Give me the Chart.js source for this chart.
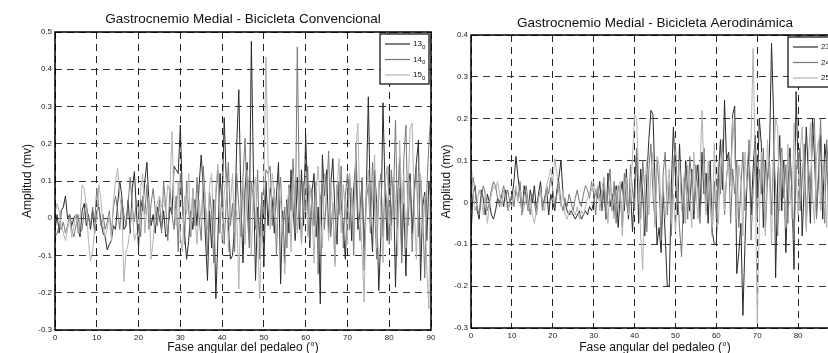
<!DOCTYPE html>
<html>
<head>
<meta charset="utf-8">
<script src="https://cdn.jsdelivr.net/npm/chart.js@4.4.1/dist/chart.umd.min.js"></script>
<style>
  html, body { margin: 0; padding: 0; background: #fff; overflow: hidden; width: 828px; height: 353px; }
  canvas { position: absolute; top: 0; }
  #convChart { left: 0; }
  #aeroChart { left: 414px; }
</style>
</head>
<body>
<canvas id="convChart" width="440" height="360"></canvas>
<canvas id="aeroChart" width="440" height="360"></canvas>
<script>
// pedal angle, one sample every half degree
const angles = Array.from({ length: 181 }, (_, i) => i / 2);
const xTicks = [0, 10, 20, 30, 40, 50, 60, 70, 80, 90];
const convTicks = [-0.3, -0.2, -0.1, 0, 0.1, 0.2, 0.3, 0.4, 0.5];
const aeroTicks = [-0.3, -0.2, -0.1, 0, 0.1, 0.2, 0.3, 0.4];
const convLabels = ['13₀', '14₀', '15₀'];
const aeroLabels = ['23₀', '24₀', '25₀'];
const lineColors = ['#2a2a2a', '#787878', '#b2b2b2'];

// Bicicleta convencional
const conv13 = [
  -0.03, 0.01, -0.04, 0.02, 0.03, 0.06, 0.00, 0.01, -0.02, 0.00, 0.01, -0.03, -0.05, 0.02, 0.04, -0.02, 0.01, -0.03, 0.02, -0.04,
  0.02, 0.03, -0.01, -0.04, -0.05, -0.085, -0.07, -0.06, -0.02, -0.03, 0.04, 0.10, 0.06, -0.03, -0.02, 0.05, -0.04, 0.08, 0.125, 0.02,
  -0.08, 0.05, 0.02, 0.10, 0.15, 0.04, -0.02, 0.01, -0.04, 0.03, 0.00, -0.03, 0.02, -0.05, -0.04, 0.03, 0.01, 0.14, 0.13, 0.12,
  0.25, 0.05, -0.04, -0.11, -0.06, 0.02, -0.03, 0.05, -0.02, 0.09, 0.17, 0.08, -0.05, -0.167, 0.02, -0.08, 0.05, -0.216, -0.05, 0.12,
  0.03, 0.27, 0.10, -0.02, -0.11, -0.10, -0.02, 0.20, 0.345, 0.05, -0.12, 0.08, 0.15, -0.04, 0.475, 0.12, -0.167, 0.03, -0.05, 0.06,
  -0.13, 0.10, -0.02, 0.08, 0.05, -0.04, 0.06, 0.15, -0.176, 0.02, -0.12, 0.05, -0.04, 0.13, 0.02, -0.06, 0.11, -0.03, 0.13, -0.02,
  0.225, 0.04, -0.08, 0.07, 0.12, -0.05, 0.03, -0.23, 0.17, 0.06, 0.13, -0.04, 0.09, 0.16, 0.02, -0.07, 0.10, 0.04, -0.02, -0.11,
  0.05, 0.12, -0.06, 0.08, 0.15, -0.03, 0.02, 0.10, -0.08, 0.06, 0.326, 0.02, -0.09, 0.13, 0.04, -0.194, -0.05, 0.31, 0.08, -0.06,
  0.14, -0.02, 0.11, -0.185, 0.05, 0.16, -0.10, 0.04, -0.155, 0.09, 0.12, -0.04, 0.08, 0.15, 0.21, -0.167, 0.03, 0.07, -0.06, 0.10,
  0.05
];
const conv14 = [
  -0.05, -0.04, -0.02, -0.03, -0.01, -0.04, -0.02, 0.01, -0.03, -0.05, -0.02, 0.01, -0.04, -0.03, 0.02, 0.04, 0.00, -0.02, 0.03, -0.01,
  0.08, 0.03, -0.02, 0.01, -0.03, -0.01, 0.02, -0.04, 0.03, 0.06, 0.02, -0.03, 0.05, 0.01, -0.02, 0.04, 0.11, 0.03, -0.01, 0.05,
  0.02, -0.05, 0.06, 0.01, 0.09, -0.03, 0.04, 0.08, 0.02, -0.02, 0.05, -0.04, 0.10, 0.03, -0.06, 0.08, 0.01, -0.03, 0.06, -0.09,
  0.12, 0.03, -0.07, 0.10, 0.02, -0.05, 0.08, -0.02, 0.11, 0.00, -0.06, 0.14, 0.04, -0.10, 0.07, 0.01, -0.12, 0.06, 0.13, -0.04,
  0.09, -0.07, 0.05, 0.15, -0.02, 0.04, -0.09, 0.12, 0.03, -0.05, 0.11, 0.215, 0.02, -0.08, 0.10, 0.05, -0.03, 0.13, -0.11, 0.07,
  0.01, 0.13, 0.12, 0.14, -0.02, 0.08, -0.10, 0.06, 0.11, -0.05, 0.03, -0.08, 0.09, 0.02, 0.16, -0.04, 0.46, 0.05, -0.07, 0.10,
  0.02, 0.14, -0.06, 0.08, -0.02, 0.10, -0.15, 0.05, 0.09, -0.03, 0.07, 0.18, -0.05, 0.04, -0.12, 0.09, 0.01, 0.14, -0.08, 0.06,
  0.12, -0.03, 0.08, -0.10, 0.20, 0.02, -0.06, 0.11, -0.14, 0.05, 0.09, -0.04, 0.15, 0.03, -0.11, 0.07, 0.12, -0.05, 0.10, 0.02,
  -0.07, 0.13, 0.04, 0.264, -0.03, 0.08, -0.12, 0.16, 0.25, -0.02, 0.10, -0.09, 0.06, 0.14, -0.05, 0.11, 0.03, -0.16, 0.08, 0.20,
  0.28
];
const conv15 = [
  0.01, 0.04, 0.02, -0.02, -0.04, -0.06, -0.03, 0.00, -0.05, -0.02, 0.01, -0.04, 0.00, 0.09, 0.08, 0.03, -0.06, -0.115, -0.09, -0.03,
  0.00, 0.09, 0.05, -0.02, -0.05, -0.03, 0.01, -0.06, 0.05, 0.10, 0.135, 0.06, 0.02, -0.17, -0.09, -0.07, -0.02, 0.03, -0.06, -0.04,
  -0.05, 0.08, 0.12, -0.04, 0.03, 0.06, -0.11, -0.06, 0.02, 0.04, 0.06, 0.03, 0.05, 0.02, 0.09, 0.07, 0.233, 0.04, -0.02, 0.10,
  -0.05, -0.09, 0.06, 0.01, 0.12, -0.04, 0.08, 0.00, -0.07, 0.05, -0.01, 0.10, 0.04, -0.03, 0.09, 0.12, -0.05, 0.08, 0.146, -0.02,
  -0.06, 0.07, 0.11, -0.09, 0.04, 0.12, -0.04, 0.02, -0.19, 0.06, 0.10, -0.07, 0.13, 0.05, -0.10, 0.08, 0.11, -0.05, -0.216, 0.02,
  0.10, 0.433, 0.16, -0.03, 0.12, 0.07, -0.06, 0.09, 0.04, -0.02, -0.15, 0.03, 0.08, -0.09, 0.12, 0.05, -0.04, 0.10, -0.07, 0.06,
  0.11, -0.05, 0.09, 0.03, -0.12, 0.07, 0.14, 0.01, -0.08, 0.12, 0.05, -0.06, 0.10, 0.02, -0.13, 0.08, 0.16, -0.04, 0.09, 0.03,
  -0.07, 0.12, 0.06, -0.03, 0.18, 0.255, 0.02, -0.09, -0.225, 0.07, 0.13, -0.02, 0.05, 0.17, -0.08, 0.10, 0.03, -0.12, 0.09, 0.14,
  0.02, -0.06, 0.11, 0.05, -0.10, 0.21, 0.04, 0.12, -0.08, 0.07, 0.24, 0.255, 0.03, -0.11, 0.09, 0.12, -0.05, 0.06, -0.14, -0.243,
  0.30
];

// Bicicleta aerodinámica
const aero23 = [
  -0.08, 0.02, 0.04, -0.02, -0.04, 0.03, 0.01, -0.03, 0.02, 0.00, -0.03, -0.04, -0.02, 0.01, 0.00, 0.02, -0.01, 0.03, -0.02, 0.00,
  0.01, 0.05, 0.11, 0.06, 0.02, -0.03, 0.04, 0.01, -0.02, 0.03, 0.00, 0.04, -0.02, 0.02, 0.05, -0.01, 0.01, 0.03, -0.03, 0.02,
  0.00, -0.02, 0.03, 0.06, 0.10, 0.02, 0.00, -0.02, -0.03, -0.02, -0.03, -0.04, -0.03, -0.02, -0.04, -0.03, -0.02, -0.03, -0.01, -0.02,
  0.00, 0.03, 0.01, 0.05, -0.02, 0.03, -0.04, 0.07, -0.01, 0.02, -0.03, 0.04, -0.06, 0.02, 0.05, -0.02, 0.08, -0.04, 0.03, -0.07,
  0.04, 0.12, -0.05, 0.08, 0.02, -0.08, 0.06, 0.15, 0.22, 0.21, 0.05, -0.10, -0.06, -0.12, 0.03, -0.08, -0.20, -0.20, 0.04, 0.18,
  0.06, -0.03, 0.14, 0.02, -0.05, 0.10, 0.03, -0.02, 0.08, -0.04, 0.05, 0.09, -0.03, 0.12, 0.02, 0.07, -0.05, 0.10, -0.07, -0.10,
  -0.10, 0.06, 0.15, 0.03, 0.245, 0.10, 0.12, 0.05, 0.21, 0.23, -0.17, -0.12, -0.05, -0.27, -0.10, 0.05, 0.12, -0.03, 0.08, 0.16,
  0.02, 0.20, 0.14, -0.06, 0.10, 0.05, 0.12, 0.38, 0.21, -0.18, 0.05, 0.16, -0.02, 0.10, -0.12, 0.04, 0.13, 0.02, -0.16, 0.265,
  0.08, 0.13, -0.08, 0.04, 0.18, 0.07, -0.05, 0.20, 0.11, -0.03, 0.06, 0.16, -0.04, 0.14, 0.09, -0.02, 0.12, 0.05, 0.15, 0.08,
  0.10
];
const aero24 = [
  0.02, 0.06, 0.03, -0.01, -0.03, 0.01, 0.04, 0.02, -0.02, 0.00, 0.03, 0.05, 0.04, 0.01, -0.01, 0.02, 0.04, 0.01, 0.03, 0.00,
  0.02, -0.01, 0.03, 0.01, 0.05, -0.02, 0.02, 0.04, 0.00, -0.03, 0.02, 0.00, -0.03, 0.01, 0.03, -0.02, 0.01, 0.04, 0.02, 0.06,
  0.03, -0.01, 0.02, 0.05, 0.00, -0.02, 0.01, -0.01, 0.02, 0.00, -0.02, 0.01, 0.03, 0.00, -0.01, 0.02, 0.04, 0.03, 0.01, 0.05,
  0.02, -0.03, 0.04, 0.01, -0.02, 0.06, -0.04, 0.03, 0.08, -0.02, 0.05, -0.05, 0.04, 0.02, -0.06, 0.07, 0.00, -0.03, 0.09, 0.03,
  -0.02, 0.13, 0.06, -0.04, 0.10, 0.03, -0.07, 0.08, 0.14, 0.02, -0.05, 0.10, 0.04, -0.09, 0.07, 0.12, -0.03, 0.05, -0.08, 0.09,
  0.14, 0.03, -0.06, -0.13, 0.02, 0.08, -0.04, 0.11, 0.05, -0.02, 0.09, 0.03, -0.05, 0.06, 0.13, -0.02, 0.07, 0.01, -0.08, 0.05,
  -0.04, 0.09, 0.02, 0.15, -0.03, 0.06, 0.11, -0.05, 0.08, 0.02, 0.10, -0.06, 0.04, 0.12, -0.02, 0.06, 0.15, -0.09, 0.03, 0.11,
  -0.04, 0.08, 0.02, 0.13, -0.07, 0.05, 0.10, -0.03, 0.12, 0.04, -0.08, 0.06, 0.13, 0.01, 0.09, -0.05, 0.11, 0.03, -0.09, 0.07,
  0.12, -0.02, 0.05, 0.14, -0.06, 0.09, 0.03, 0.16, 0.20, -0.04, 0.08, 0.20, 0.02, -0.05, 0.15, 0.06, -0.03, 0.10, 0.13, 0.04,
  0.07
];
const aero25 = [
  0.10, 0.03, -0.02, 0.00, 0.03, 0.01, -0.03, 0.02, -0.05, -0.01, 0.02, 0.04, 0.03, 0.05, 0.02, -0.01, 0.03, 0.01, -0.02, 0.00,
  -0.01, 0.02, 0.04, 0.00, 0.03, -0.03, -0.01, 0.02, -0.02, 0.01, -0.03, -0.05, -0.02, 0.01, 0.03, 0.00, -0.02, 0.04, 0.06, 0.08,
  0.05, 0.105, 0.07, 0.02, -0.01, 0.03, -0.03, -0.04, -0.02, -0.03, -0.02, -0.03, -0.01, -0.04, -0.02, -0.03, -0.01, 0.01, 0.02, 0.03,
  0.05, 0.02, 0.04, -0.02, 0.03, 0.06, 0.01, -0.05, 0.04, 0.00, -0.04, 0.03, -0.02, 0.05, -0.08, 0.02, 0.06, -0.03, 0.01, 0.11,
  0.21, 0.20, 0.06, -0.08, -0.16, 0.04, 0.10, -0.03, 0.07, 0.12, -0.06, 0.11, 0.09, -0.02, 0.05, -0.04, 0.03, 0.08, -0.05, 0.02,
  -0.07, 0.04, 0.10, -0.02, 0.06, -0.05, 0.09, 0.02, -0.06, 0.12, 0.03, -0.04, 0.08, 0.22, 0.05, -0.03, 0.10, 0.02, -0.06, 0.14,
  0.02, -0.05, 0.08, 0.12, -0.02, 0.06, 0.10, 0.04, 0.20, 0.13, -0.04, 0.09, 0.05, -0.08, 0.12, 0.03, 0.08, 0.15, 0.368, 0.10,
  -0.29, -0.05, 0.12, 0.04, -0.08, 0.15, 0.06, -0.10, 0.09, 0.20, 0.18, -0.02, 0.12, 0.05, -0.06, 0.14, 0.03, -0.04, 0.19, 0.07,
  -0.03, 0.12, 0.18, 0.04, -0.07, 0.10, 0.19, 0.02, -0.05, 0.11, 0.15, -0.02, 0.09, 0.04, -0.06, 0.12, 0.03, -0.08, 0.10, 0.05,
  0.08
];

Chart.defaults.font.family = '"Liberation Sans", Arial, sans-serif';
Chart.defaults.color = '#1a1a1a';

// box around the plot and the small key in the top right corner
const frameAndKey = {
  id: 'frameAndKey',
  afterDatasetsDraw(chart) {
    const { ctx, chartArea: a } = chart;
    ctx.save();
    ctx.strokeStyle = '#000';
    ctx.lineWidth = 1.5;
    ctx.strokeRect(a.left, a.top, a.right - a.left, a.bottom - a.top);

    const w = 49, h = 50;
    const bx = a.right - 2 - w, by = a.top + 2;
    ctx.fillStyle = '#fff';
    ctx.fillRect(bx, by, w, h);
    ctx.lineWidth = 1.2;
    ctx.strokeRect(bx, by, w, h);

    chart.data.datasets.forEach((ds, k) => {
      const y = by + 10 + k * 15.5;
      ctx.strokeStyle = ds.borderColor;
      ctx.lineWidth = 1.2;
      ctx.beginPath();
      ctx.moveTo(bx + 5, y);
      ctx.lineTo(bx + 30, y);
      ctx.stroke();
      const base = ds.label.replace('₀', '');
      ctx.fillStyle = '#111';
      ctx.textBaseline = 'middle';
      ctx.font = '8px "Liberation Sans", Arial, sans-serif';
      ctx.fillText(base, bx + 33, y);
      const bw = ctx.measureText(base).width;
      ctx.font = '6px "Liberation Sans", Arial, sans-serif';
      ctx.fillText('0', bx + 33 + bw, y + 3);
    });
    ctx.restore();
  }
};

function makeChart(id, title, names, series, yTicks, area) {
  return new Chart(document.getElementById(id), {
    type: 'line',
    data: {
      datasets: series.map((s, k) => ({
        label: names[k],
        data: s.map((v, i) => ({ x: angles[i], y: v })),
        borderColor: lineColors[k],
        borderWidth: 1,
        pointRadius: 0,
        tension: 0,
        order: 3 - k
      }))
    },
    options: {
      responsive: false,
      animation: false,
      devicePixelRatio: 1,
      layout: { padding: { left: 0, right: 440 - area.right, top: 0, bottom: 0 } },
      plugins: {
        legend: { display: false },
        tooltip: { enabled: false },
        title: {
          display: true,
          fullSize: false,
          text: title,
          color: '#111',
          font: { size: 13.5, weight: 'normal' },
          padding: { top: area.titleTop, bottom: area.top - area.titleTop - 16.2 }
        }
      },
      scales: {
        x: {
          type: 'linear',
          min: 0,
          max: 90,
          afterBuildTicks: s => { s.ticks = xTicks.map(v => ({ value: v })); },
          afterFit: s => { s.height = 360 - area.bottom; },
          ticks: { padding: 3, font: { size: 8 }, color: '#222', maxRotation: 0, callback: v => String(v) },
          grid: { color: '#222', lineWidth: 1, drawTicks: false },
          border: { display: false, dash: [7, 5] },
          title: { display: true, text: 'Fase angular del pedaleo (°)', color: '#111', font: { size: 12 }, padding: { top: 0, bottom: 5 } }
        },
        y: {
          min: yTicks[0],
          max: yTicks[yTicks.length - 1],
          afterBuildTicks: s => { s.ticks = yTicks.map(v => ({ value: v })); },
          afterFit: s => { s.width = area.left; },
          ticks: { padding: 3, font: { size: 8 }, color: '#222', callback: v => String(v) },
          grid: { color: '#333', lineWidth: 1, drawTicks: false },
          border: { display: false, dash: [7, 5] },
          title: { display: true, text: 'Amplitud (mv)', color: '#111', font: { size: 12 }, padding: { top: area.yTitlePad, bottom: 0 } }
        }
      }
    },
    plugins: [frameAndKey]
  });
}

makeChart('convChart', 'Gastrocnemio Medial - Bicicleta Convencional', convLabels,
  [conv13, conv14, conv15], convTicks,
  { left: 55, right: 431, top: 32, bottom: 330, titleTop: 11, yTitlePad: 20 });

makeChart('aeroChart', 'Gastrocnemio Medial - Bicicleta Aerodinámica', aeroLabels,
  [aero23, aero24, aero25], aeroTicks,
  { left: 57, right: 425, top: 35, bottom: 328, titleTop: 15.5, yTitlePad: 25 });
</script>
</body>
</html>
